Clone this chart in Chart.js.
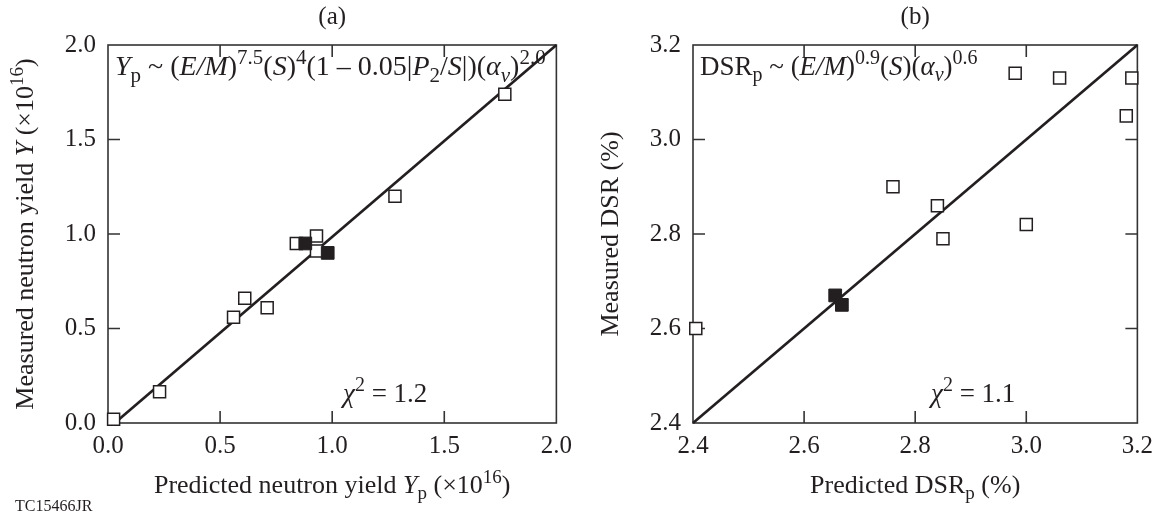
<!DOCTYPE html>
<html>
<head>
<meta charset="utf-8">
<script src="https://cdn.jsdelivr.net/npm/chart.js@4"></script>
<style>
  body { margin: 0; background: #fff; }
  #wrap { position: relative; width: 1161px; height: 515px; }
  canvas { position: absolute; top: 0; }
  #yieldChart { left: 0; }
  #dsrChart { left: 580px; }
</style>
</head>
<body>
<div id="wrap">
  <canvas id="yieldChart" width="580" height="515"></canvas>
  <canvas id="dsrChart" width="581" height="515"></canvas>
</div>
<script>
// (a) neutron yield, x10^16
const yieldTicks = [0, 0.5, 1.0, 1.5, 2.0];
const yieldPredOpen = [1.77, 1.28, 0.84, 0.93, 0.93, 0.61, 0.71, 0.56, 0.23, 0.025];
const yieldMeasOpen = [1.74, 1.20, 0.95, 0.99, 0.91, 0.66, 0.61, 0.56, 0.165, 0.02];
const yieldPredFilled = [0.88, 0.98];
const yieldMeasFilled = [0.95, 0.90];
const yieldFitX = [0.03, 2.0];
const yieldFitY = [0, 2.0];

// (b) DSR, %
const dsrTicks = [2.4, 2.6, 2.8, 3.0, 3.2];
const dsrPredOpen = [2.98, 3.06, 3.19, 3.18, 2.76, 2.84, 2.85, 3.00, 2.405];
const dsrMeasOpen = [3.14, 3.13, 3.13, 3.05, 2.90, 2.86, 2.79, 2.82, 2.60];
const dsrPredFilled = [2.656, 2.668];
const dsrMeasFilled = [2.67, 2.65];
const dsrFitX = [2.4, 3.2];
const dsrFitY = [2.4, 3.2];

const INK = '#231f20';
const SERIF = '"Liberation Serif", "Times New Roman", serif';

function pts(xs, ys) {
  return xs.map((x, i) => ({ x: x, y: ys[i] }));
}

// draws text made of pieces: [text, style]; style: '', 'i', 'sup', 'sub', 'isub'
function rich(ctx, parts, x, y, size, align) {
  const fontFor = (st) => {
    const small = st.endsWith('sup') || st.endsWith('sub');
    const italic = st === 'i' || st.startsWith('i');
    return (italic ? 'italic ' : '') + (small ? Math.round(size * 0.74) : size) + 'px ' + SERIF;
  };
  let w = 0;
  parts.forEach(p => { ctx.font = fontFor(p[1]); w += ctx.measureText(p[0]).width; });
  let cx = align === 'center' ? x - w / 2 : x;
  ctx.fillStyle = INK;
  ctx.textBaseline = 'alphabetic';
  ctx.textAlign = 'left';
  parts.forEach(p => {
    const st = p[1];
    ctx.font = fontFor(st);
    let dy = 0;
    if (st.endsWith('sup')) dy = -size * 0.4;
    if (st.endsWith('sub')) dy = size * 0.24;
    ctx.fillText(p[0], cx, y + dy);
    cx += ctx.measureText(p[0]).width;
  });
}

const framePlugin = {
  id: 'frame',
  beforeDatasetsDraw(chart) {
    const ctx = chart.ctx;
    const a = chart.chartArea;
    const o = chart.options.plugins.frame;
    const xs = chart.scales.x, ys = chart.scales.y;
    const len = 12;
    ctx.save();
    ctx.strokeStyle = '#333';
    ctx.lineWidth = 1.6;
    ctx.strokeRect(a.left, a.top, a.right - a.left, a.bottom - a.top);
    ctx.beginPath();
    xs.ticks.slice(1, -1).forEach(t => {
      const px = xs.getPixelForValue(t.value);
      ctx.moveTo(px, a.bottom); ctx.lineTo(px, a.bottom - len);
      ctx.moveTo(px, a.top); ctx.lineTo(px, a.top + len);
    });
    ys.ticks.slice(1, -1).forEach(t => {
      const py = ys.getPixelForValue(t.value);
      ctx.moveTo(a.left, py); ctx.lineTo(a.left + len, py);
      if (o.rightTicks) { ctx.moveTo(a.right, py); ctx.lineTo(a.right - len, py); }
    });
    ctx.stroke();
    ctx.restore();
  },
  afterDraw(chart) {
    const ctx = chart.ctx;
    const o = chart.options.plugins.frame;
    const a = chart.chartArea;
    const midX = (a.left + a.right) / 2;
    const midY = (a.top + a.bottom) / 2;
    ctx.save();
    rich(ctx, [[o.tag, '']], midX, 24, 25, 'center');
    rich(ctx, o.formula, o.formulaX, 75, o.formulaSize, 'left');
    rich(ctx, o.chi, o.chiX, 402, 27, 'left');
    rich(ctx, o.xTitle, midX, 493, 26, 'center');
    ctx.translate(o.yTitleX, midY);
    ctx.rotate(-Math.PI / 2);
    rich(ctx, o.yTitle, 0, 0, 26, 'center');
    ctx.restore();
    if (o.note) {
      ctx.save();
      ctx.font = '16px ' + SERIF;
      ctx.fillStyle = INK;
      ctx.fillText(o.note, 15, 511);
      ctx.restore();
    }
  }
};

function makeChart(id, cfg) {
  const openSet = {
    type: 'scatter',
    data: pts(cfg.openX, cfg.openY),
    pointStyle: 'rect',
    pointRadius: 8.5,
    pointBackgroundColor: '#fff',
    pointBorderColor: INK,
    pointBorderWidth: 1.5,
    clip: false,
    order: 2
  };
  const filledSet = {
    type: 'scatter',
    data: pts(cfg.filledX, cfg.filledY),
    pointStyle: 'rect',
    pointRadius: 9,
    pointBackgroundColor: INK,
    pointBorderColor: INK,
    pointBorderWidth: 1,
    clip: false,
    order: 1
  };
  const fitSet = {
    type: 'line',
    data: pts(cfg.fitX, cfg.fitY),
    borderColor: INK,
    borderWidth: 2.7,
    pointRadius: 0,
    clip: false,
    order: 3
  };
  const axis = (ticks) => ({
    type: 'linear',
    min: ticks[0],
    max: ticks[ticks.length - 1],
    afterBuildTicks: s => { s.ticks = ticks.map(v => ({ value: v })); },
    grid: { display: false, drawTicks: false },
    border: { display: false },
    ticks: {
      color: INK,
      font: { family: SERIF, size: 25 },
      callback: v => v.toFixed(1)
    }
  });
  const xAxis = axis(cfg.ticks);
  xAxis.ticks.padding = 8;
  xAxis.afterFit = s => { s.height = 92; };
  const yAxis = axis(cfg.ticks);
  yAxis.ticks.padding = 12;
  yAxis.afterFit = s => { s.width = cfg.left; };

  return new Chart(document.getElementById(id), {
    type: 'scatter',
    data: { datasets: [openSet, filledSet, fitSet] },
    options: {
      responsive: false,
      animation: false,
      layout: { padding: { top: 45, right: cfg.right, left: 0, bottom: 0 } },
      scales: { x: xAxis, y: yAxis },
      plugins: {
        legend: { display: false },
        tooltip: { enabled: false },
        frame: cfg.text
      }
    },
    plugins: [framePlugin]
  });
}

makeChart('yieldChart', {
  ticks: yieldTicks,
  openX: yieldPredOpen, openY: yieldMeasOpen,
  filledX: yieldPredFilled, filledY: yieldMeasFilled,
  fitX: yieldFitX, fitY: yieldFitY,
  left: 108, right: 23,
  text: {
    tag: '(a)',
    formula: [['Y', 'i'], ['p', 'sub'], [' ~ (', ''], ['E/M', 'i'], [')', ''], ['7.5', 'sup'],
      ['(', ''], ['S', 'i'], [')', ''], ['4', 'sup'], ['(1 \u2013 0.05|', ''], ['P', 'i'], ['2', 'sub'],
      ['/', ''], ['S', 'i'], ['|)(', ''], ['\u03b1', 'i'], ['v', 'isub'], [')', ''], ['2.0', 'sup']],
    formulaX: 115,
    formulaSize: 28,
    chi: [['\u03c7', 'i'], ['2', 'sup'], [' = 1.2', '']],
    chiX: 343,
    xTitle: [['Predicted neutron yield ', ''], ['Y', 'i'], ['p', 'sub'], [' (\u00d710', ''], ['16', 'sup'], [')', '']],
    yTitle: [['Measured neutron yield ', ''], ['Y', 'i'], [' (\u00d710', ''], ['16', 'sup'], [')', '']],
    yTitleX: 33,
    rightTicks: false,
    note: 'TC15466JR'
  }
});

makeChart('dsrChart', {
  ticks: dsrTicks,
  openX: dsrPredOpen, openY: dsrMeasOpen,
  filledX: dsrPredFilled, filledY: dsrMeasFilled,
  fitX: dsrFitX, fitY: dsrFitY,
  left: 113, right: 19,
  text: {
    tag: '(b)',
    formula: [['DSR', ''], ['p', 'sub'], [' ~ (', ''], ['E/M', 'i'], [')', ''], ['0.9', 'sup'],
      ['(', ''], ['S', 'i'], [')(', ''], ['\u03b1', 'i'], ['v', 'isub'], [')', ''], ['0.6', 'sup']],
    formulaX: 120,
    formulaSize: 27,
    chi: [['\u03c7', 'i'], ['2', 'sup'], [' = 1.1', '']],
    chiX: 351,
    xTitle: [['Predicted DSR', ''], ['p', 'sub'], [' (%)', '']],
    yTitle: [['Measured DSR (%)', '']],
    yTitleX: 38,
    rightTicks: true
  }
});
</script>
</body>
</html>
